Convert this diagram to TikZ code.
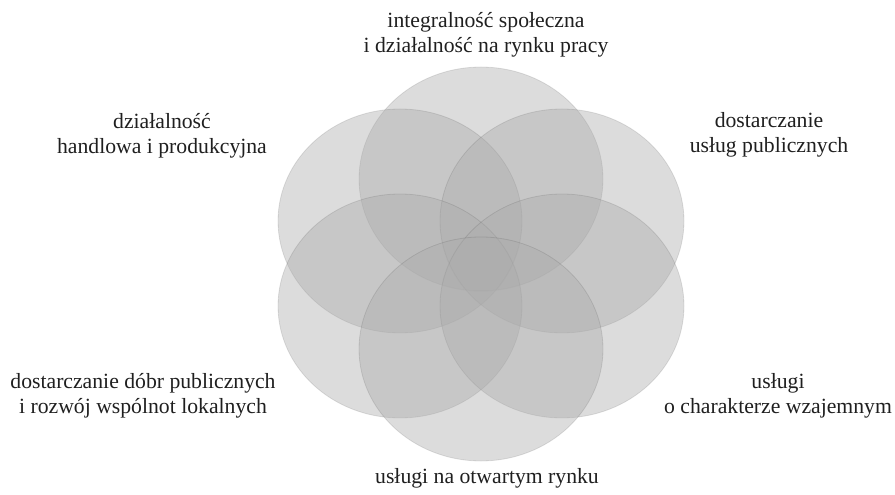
\documentclass[tikz,border=0pt]{standalone}
\usepackage{fontspec}
\setmainfont{Liberation Serif}
\definecolor{petalfill}{gray}{0.667}
\definecolor{txtcol}{gray}{0.12}
\begin{document}
\begin{tikzpicture}[x=1bp,y=-1bp,
  petal/.style={fill=petalfill, fill opacity=0.41, draw=black, draw opacity=0.10, line width=0.8bp},
  lbl/.style={align=center, inner sep=0pt, anchor=base, text=txtcol,
              font=\fontsize{21.7bp}{25bp}\selectfont}]
\useasboundingbox (0,0) rectangle (895,495);
% petals
\path[petal] (481,179) ellipse [x radius=122bp, y radius=112bp];
\path[petal] (400,221) ellipse [x radius=122bp, y radius=112bp];
\path[petal] (562,221) ellipse [x radius=122bp, y radius=112bp];
\path[petal] (400,306) ellipse [x radius=122bp, y radius=112bp];
\path[petal] (562,306) ellipse [x radius=122bp, y radius=112bp];
\path[petal] (481,349) ellipse [x radius=122bp, y radius=112bp];
% labels (base anchor = baseline of the last line)
\node[lbl] (ltop) at (486,53) {integralność społeczna\\i działalność na rynku pracy};
\node[lbl] (lul) at (162,154) {działalność\\handlowa i produkcyjna};
\node[lbl] (lur) at (769,153) {dostarczanie\\usług publicznych};
\node[lbl] (lll) at (143,413) {dostarczanie dóbr publicznych\\i rozwój wspólnot lokalnych};
\node[lbl] (llr) at (778,413) {usługi\\o charakterze wzajemnym};
\node[lbl] (lbot) at (487,483) {usługi na otwartym rynku};
\end{tikzpicture}
\end{document}
